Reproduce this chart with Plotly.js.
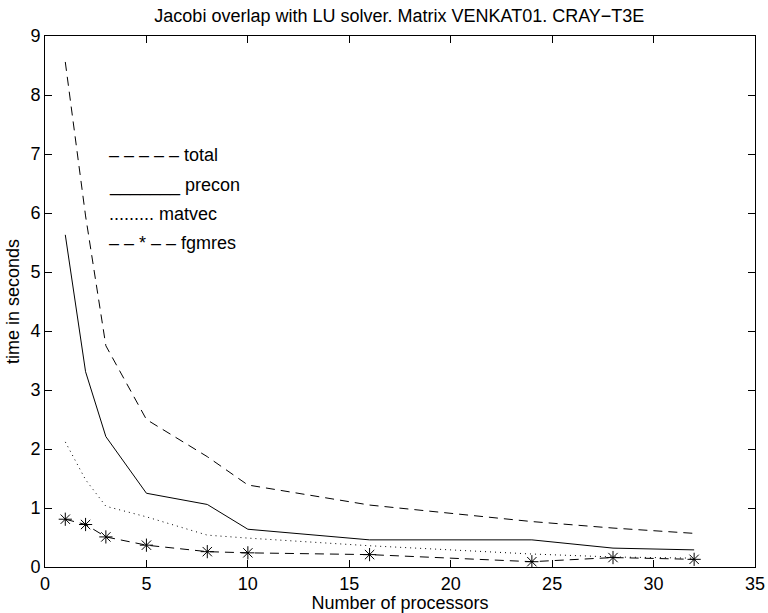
<!DOCTYPE html>
<html>
<head>
<meta charset="utf-8">
<script src="https://cdn.plot.ly/plotly-3.0.1.min.js"></script>
<style>html,body{margin:0;padding:0;background:#fff;}#chart{width:768px;height:613px;}</style>
</head>
<body>
<div id="chart"></div>
<script>
const processors = [1, 2, 3, 5, 8, 10, 16, 24, 28, 32];
const total  = [8.56, 5.95, 3.75, 2.50, 1.87, 1.39, 1.05, 0.77, 0.66, 0.57];
const precon = [5.63, 3.31, 2.21, 1.25, 1.06, 0.64, 0.46, 0.46, 0.32, 0.29];
const matvec = [2.12, 1.48, 1.03, 0.85, 0.54, 0.49, 0.36, 0.22, 0.17, 0.15];
const fgmres = [0.81, 0.72, 0.51, 0.37, 0.26, 0.24, 0.21, 0.09, 0.16, 0.13];
const legendLabels = ["– – – – – total", "_______ precon", "......... matvec", "– – * – – fgmres"];
const legendRows = [0.776, 0.719, 0.665, 0.610];

const FONT = "Liberation Sans, Arial, Helvetica, sans-serif";
const traces = [
  {x: processors, y: total, mode: 'lines', line: {color: '#000', width: 1, dash: '9px,6px'}},
  {x: processors, y: precon, mode: 'lines', line: {color: '#000', width: 1}},
  {x: processors, y: matvec, mode: 'lines', line: {color: '#000', width: 1, dash: '1px,4px'}},
  {x: processors, y: fgmres, mode: 'lines+markers', line: {color: '#000', width: 1, dash: '9px,6px'},
   marker: {symbol: 'asterisk-open', size: 11, color: '#000', line: {color: '#000', width: 1}}}
];
const annotations = legendLabels.map((t, i) => ({
  text: t, xref: 'paper', yref: 'paper', x: 0.087, y: legendRows[i],
  xanchor: 'left', yanchor: 'middle', showarrow: false,
  font: {family: FONT, size: 18, color: '#000'}
}));
const axisCommon = {
  showgrid: false, zeroline: false, showline: true, mirror: 'ticks',
  linecolor: '#000', linewidth: 1, ticks: 'inside', ticklen: 7, tickcolor: '#000',
  tickfont: {family: FONT, size: 18, color: '#000'}
};
const layout = {
  width: 768, height: 613,
  margin: {l: 45, r: 13, t: 36, b: 46},
  paper_bgcolor: '#fff', plot_bgcolor: '#fff',
  showlegend: false,
  font: {family: FONT, size: 18, color: '#000'},
  title: {text: 'Jacobi overlap with LU solver. Matrix VENKAT01. CRAY−T3E',
          font: {family: FONT, size: 18, color: '#000'}, x: 0.52, xanchor: 'center', y: 0.985, yanchor: 'top'},
  xaxis: Object.assign({}, axisCommon, {range: [0, 35], dtick: 5, tick0: 0,
          title: {text: 'Number of processors', font: {family: FONT, size: 18}, standoff: 2}}),
  yaxis: Object.assign({}, axisCommon, {range: [0, 9], dtick: 1, tick0: 0,
          title: {text: 'time in seconds', font: {family: FONT, size: 18}, standoff: 6}}),
  annotations: annotations
};
Plotly.newPlot('chart', traces, layout, {staticPlot: true, displayModeBar: false});
</script>
</body>
</html>
